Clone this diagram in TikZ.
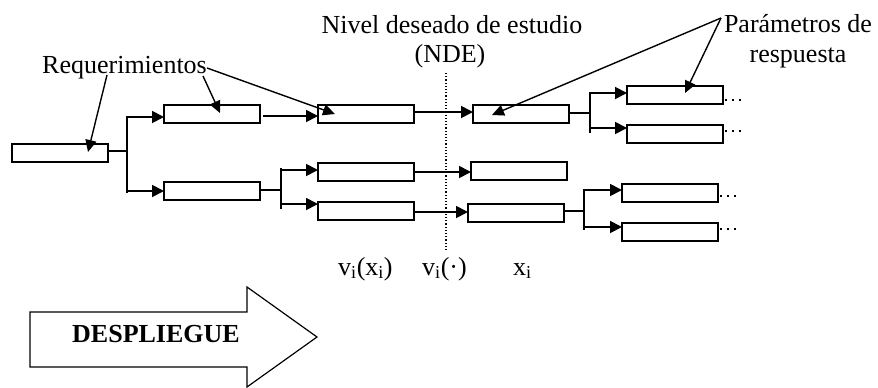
\documentclass[tikz,border=0pt]{standalone}
\usepackage{fontspec}
\setmainfont{Liberation Serif}
\usetikzlibrary{arrows.meta}
\begin{document}
\begin{tikzpicture}[x=1pt,y=-1pt,
  box/.style={draw, line width=2pt, minimum width=96pt, minimum height=18pt, inner sep=0pt, outer sep=0pt},
  wire/.style={line width=1.8pt},
  arr/.style={line width=1.8pt, -{Triangle[length=12pt,width=12pt]}},
  larr/.style={line width=1.4pt, -{Triangle[length=12pt,width=11pt]}},
  lab/.style={font=\fontsize{26}{30}\selectfont, inner sep=0pt},
  dots/.style={line width=2pt, dash pattern=on 2pt off 5pt},
]
\useasboundingbox (0,0) rectangle (878,388);

% boxes
\node[box] (A)  at (60,153) {};
\node[box] (B1) at (212,114) {};
\node[box] (B2) at (212,191) {};
\node[box] (C1) at (366,114) {};
\node[box] (C2) at (366,172) {};
\node[box] (C3) at (366,211) {};
\node[box] (D1) at (521,114) {};
\node[box] (D2) at (519,171) {};
\node[box] (D3) at (516,213) {};
\node[box] (E1) at (675,95) {};
\node[box] (E2) at (675,134) {};
\node[box] (E3) at (670,193) {};
\node[box] (E4) at (670,232) {};

% junction A
\coordinate (jA1) at (127,117);
\coordinate (jA2) at (127,191);
\draw[wire] (A.east |- 0,151) -- (127,151);
\draw[wire] (127,116) -- (127,193);
\draw[arr] (jA1) -- (jA1 -| B1.west);
\draw[arr] (jA2) -- (jA2 -| B2.west);

% B1 -> C1
\draw[arr] (B1.east |- 0,116) ++(3,0) -- (C1.west |- 0,116);

% junction B
\coordinate (jB1) at (281,170);
\coordinate (jB2) at (281,204);
\draw[wire] (B2.east |- 0,190) -- (281,190);
\draw[wire] (281,168) -- (281,209);
\draw[arr] (jB1) -- (jB1 -| C2.west);
\draw[arr] (jB2) -- (jB2 -| C3.west);

% C -> D
\draw[arr] (C1.east |- 0,112) -- (D1.west |- 0,112);
\draw[arr] (C2.east |- 0,172) -- (D2.west |- 0,172);
\draw[arr] (C3.east |- 0,212) -- (D3.west |- 0,212);

% junction D
\coordinate (jD1) at (590,93);
\coordinate (jD2) at (590,128);
\draw[wire] (D1.east |- 0,113) -- (590,113);
\draw[wire] (590,92) -- (590,133);
\draw[arr] (jD1) -- (jD1 -| E1.west);
\draw[arr] (jD2) -- (jD2 -| E2.west);

% junction E
\coordinate (jE1) at (584,190);
\coordinate (jE2) at (584,227);
\draw[wire] (D3.east |- 0,211) -- (584,211);
\draw[wire] (584,189) -- (584,230);
\draw[arr] (jE1) -- (jE1 -| E3.west);
\draw[arr] (jE2) -- (jE2 -| E4.west);

% continuation dots
\draw[dots] (E1.east |- 0,100) ++(2,0) -- ++(17,0);
\draw[dots] (E2.east |- 0,131) ++(2,0) -- ++(17,0);
\draw[dots] (E3.east |- 0,196) ++(2,0) -- ++(17,0);
\draw[dots] (E4.east |- 0,229) ++(2,0) -- ++(17,0);

% NDE dotted line
\coordinate (ndeTop) at (446,73);
\coordinate (ndeBot) at (446,250);
\draw[line width=1.2pt, dash pattern=on 1.2pt off 2pt] (ndeTop) -- (ndeBot);

% labels
\node[lab, anchor=base west] (req) at (42,73) {Requerimientos};
\node[lab, anchor=base] (nde1) at (452,33) {Nivel deseado de estudio};
\node[lab, anchor=base] (nde2) at (450,62) {(NDE)};
\node[lab, anchor=base] (par1) at (798,32) {Parámetros de};
\node[lab, anchor=base] (par2) at (798,62) {respuesta};

% label arrows
\coordinate (r1) at (107,75);
\coordinate (r2) at (203,76);
\coordinate (r3) at (207,68);
\coordinate (p0) at (721,18);
\draw[larr] (r1) -- ([xshift=28pt,yshift=1pt]A.center);
\draw[larr] (r2) -- ([xshift=8pt,yshift=1pt]B1.center);
\draw[larr] (r3) -- ([xshift=-31pt]C1.center);
\draw[larr] (p0) -- ([xshift=-29pt,yshift=-1pt]D1.center);
\draw[larr] (p0) -- ([xshift=10pt,yshift=2pt]E1.center);

% bottom labels
\node[lab, anchor=base west] (vx) at (338,275) {v\textsubscript{i}(x\textsubscript{i})};
\node[lab, anchor=base west] (vd) at (422,275) {v\textsubscript{i}(·)};
\node[lab, anchor=base west] (xi) at (513,275) {x\textsubscript{i}};

% big arrow
\draw[line width=1.2pt] (30,312) -- (247,312) -- (247,287) -- (317,337) -- (247,387) -- (247,367) -- (30,367) -- cycle;
\node[lab, font=\fontsize{26}{30}\selectfont\bfseries, anchor=base] (desp) at (156,342) {DESPLIEGUE};
\end{tikzpicture}
\end{document}
